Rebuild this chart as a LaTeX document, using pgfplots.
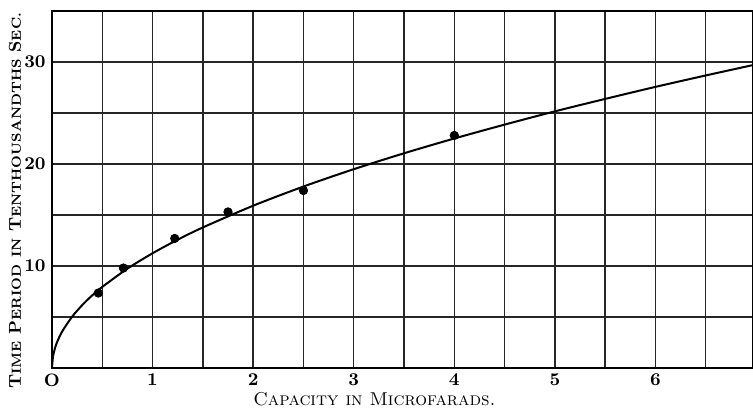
\documentclass[border=0pt]{standalone}
\usepackage{pgfplots}
\pgfplotsset{compat=1.18}
% fake small caps: first letter full size, rest smaller
\newcommand\fsc[2]{#1{\fontsize{6.6}{8}\selectfont #2}}
\begin{document}
\begin{tikzpicture}
\begin{axis}[
    width=350.5pt, height=178.5pt, scale only axis,
    xmin=0, xmax=6.97, ymin=0, ymax=35,
    xtick={0,1,...,6}, ytick={10,20,30},
    xticklabels={O,1,2,3,4,5,6},
    minor xtick={0.5,1.5,...,6.5}, minor ytick={5,15,25},
    grid=both,
    grid style={black!85, line width=0.7pt},
    minor grid style={black!85, line width=0.7pt},
    axis line style={line width=1.2pt},
    major tick length=0pt, minor tick length=0pt,
    tick label style={font=\bfseries\small},
    xticklabel style={anchor=center, yshift=-6pt},
    yticklabel style={anchor=center, xshift=-8.5pt},
    /pgf/number format/assume math mode=true,
    xlabel={\fontsize{9.3}{11}\selectfont\textsc{Capacity in Microfarads.}},
    xlabel style={at={(axis description cs:0.46,0)}, anchor=center, yshift=-15.5pt},
    ylabel={\fontsize{8.6}{10}\selectfont\bfseries\fsc{T}{IME} \fsc{P}{ERIOD} \fsc{}{IN} \fsc{T}{ENTHOUSANDTHS} \fsc{S}{EC.}},
    ylabel style={at={(axis description cs:0,0.468)}, anchor=center, yshift=18.5pt},
  ]
  % fitted curve
  \addplot[black, line width=1pt, smooth] coordinates {
    (0,0) (0.01,1.13) (0.03,1.95) (0.05,2.52) (0.1,3.56) (0.2,5.03)
    (0.3,6.16) (0.4,7.12) (0.5,7.95) (0.75,9.74) (1,11.25) (1.25,12.58)
    (1.5,13.78) (2,15.91) (2.5,17.79) (3,19.49) (3.5,21.05) (4,22.5)
    (4.5,23.86) (5,25.16) (5.5,26.38) (6,27.56) (6.5,28.68) (6.97,29.7)
  };
  % observed points
  \addplot[only marks, mark=*, mark size=2.1pt, black] coordinates {
    (0.46,7.35) (0.71,9.8) (1.22,12.7) (1.75,15.3) (2.5,17.4) (4.0,22.8)
  };
\end{axis}
% page size as in the scan
\pgfresetboundingbox
\path ([shift={(-26pt,-21.5pt)}]current axis.south west) rectangle ([shift={(0pt,5.5pt)}]current axis.north east);
\end{tikzpicture}
\end{document}
